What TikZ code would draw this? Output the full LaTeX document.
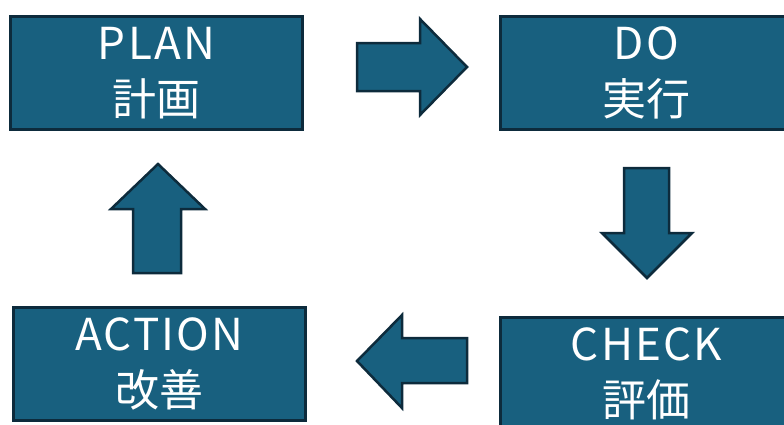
\documentclass[tikz,border=0pt]{standalone}
\usepackage{fontspec}
\setmainfont{Noto Sans CJK JP}
\newfontfamily\wide[LetterSpace=5]{Noto Sans CJK JP}
\usetikzlibrary{positioning}
\definecolor{boxfill}{HTML}{18607F}
\definecolor{boxline}{HTML}{0D2B3C}
\tikzset{stage/.style={draw=boxline,fill=boxfill,line width=3pt,minimum width=292pt,minimum height=113pt,inner sep=0pt,align=center,text=white,font=\fontsize{44}{56}\selectfont}}
\tikzset{blockarrow/.style={draw=boxline,fill=boxfill,line width=2.5pt,line join=miter}}

\begin{document}
\begin{tikzpicture}[x=1pt,y=-1pt]
      \useasboundingbox (0,0) rectangle (784,424);
      \clip (0,0) rectangle (784,424);
      \node[stage](plan) at (156.5,73){{\wide PLAN}\\計画};
      \node[stage](do) at (646.5,73){{\wide DO}\\実行};
      \node[stage](check) at (646.5,374){{\wide CHECK}\\評価};
      \node[stage](action) at (159.5,364){{\wide ACTION}\\改善};

      % plan -> do
      \draw[blockarrow] (357,43) -- (420,43) -- (420,19) -- (467,67) -- (420,115) -- (420,91) -- (357,91) -- cycle;
      % do -> check
      \draw[blockarrow] (624,168) -- (669,168) -- (669,233) -- (692,233) -- (647,278) -- (602,233) -- (624,233) -- cycle;
      % check -> action
      \draw[blockarrow] (467,338) -- (402,338) -- (402,315) -- (357,361) -- (402,408) -- (402,383) -- (467,383) -- cycle;
      % action -> plan
      \draw[blockarrow] (133,273) -- (181,273) -- (181,209) -- (205,209) -- (158,164) -- (111,209) -- (133,209) -- cycle;
\end{tikzpicture}
\end{document}
